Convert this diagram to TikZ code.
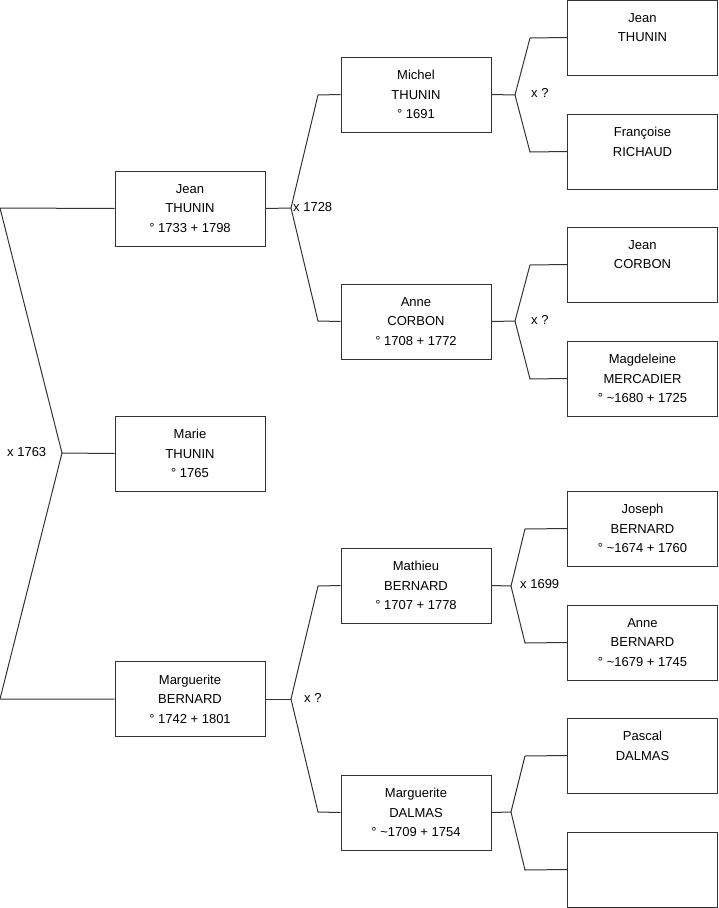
\documentclass[tikz,border=0pt]{standalone}
\usepackage{fontspec}
\setmainfont{Liberation Sans}
\begin{document}
\begin{tikzpicture}[x=1pt,y=-1pt,
  linec/.style={draw=black!80, line width=1pt},
  box/.style={linec, minimum width=150pt, minimum height=75pt, inner sep=0pt,
    align=center, font=\fontsize{13}{19.5}\selectfont, fill=white},
  wire/.style={linec},
  lab/.style={inner sep=0pt, font=\fontsize{13}{16}\selectfont}]
\useasboundingbox (0,0) rectangle (719,908);
% level 1
\node[box] (j1) at (190,208.5) {Jean\\THUNIN\\° 1733 + 1798};
\node[box] (ma) at (190,453.5) {Marie\\THUNIN\\° 1765};
\node[box] (mb) at (190,699) {Marguerite\\BERNARD\\° 1742 + 1801};
% level 2
\node[box] (mt) at (416,94.5) {Michel\\THUNIN\\° 1691};
\node[box] (ac) at (416,321.5) {Anne\\CORBON\\° 1708 + 1772};
\node[box] (mbe) at (416,585.5) {Mathieu\\BERNARD\\° 1707 + 1778};
\node[box] (md) at (416,812.5) {Marguerite\\DALMAS\\° \textasciitilde1709 + 1754};
% level 3
\node[box] (jt) at (642.5,37.5) {Jean\\THUNIN\\\mbox{}};
\node[box] (fr) at (642.5,151.5) {Françoise\\RICHAUD\\\mbox{}};
\node[box] (jc) at (642.5,264.5) {Jean\\CORBON\\\mbox{}};
\node[box] (mm) at (642.5,378.5) {Magdeleine\\MERCADIER\\° \textasciitilde1680 + 1725};
\node[box] (jb) at (642.5,528.5) {Joseph\\BERNARD\\° \textasciitilde1674 + 1760};
\node[box] (ab) at (642.5,642.5) {Anne\\BERNARD\\° \textasciitilde1679 + 1745};
\node[box] (pd) at (642.5,755.5) {Pascal\\DALMAS\\\mbox{}};
\node[box] (em) at (642.5,869.5) {};
% junction coordinates
\coordinate (r) at (62,453);
\coordinate (ra) at (0,208);
\coordinate (rb) at (0,699);
\coordinate (f1) at (291,208);
\coordinate (f1a) at (318,95);
\coordinate (f1b) at (318,321);
\coordinate (f2) at (291,699);
\coordinate (f2a) at (318,586);
\coordinate (f2b) at (318,812);
\coordinate (f3) at (515,95);
\coordinate (f3a) at (530,38);
\coordinate (f3b) at (530,152);
\coordinate (f4) at (515,321);
\coordinate (f4a) at (530,265);
\coordinate (f4b) at (530,379);
\coordinate (f5) at (511,586);
\coordinate (f5a) at (525,529);
\coordinate (f5b) at (525,643);
\coordinate (f6) at (511,812);
\coordinate (f6a) at (525,756);
\coordinate (f6b) at (525,870);
% connectors
\draw[wire] (j1.west) -- (ra) -- (r) -- (rb) -- (mb.west);
\draw[wire] (r) -- (ma.west);
\draw[wire] (j1.east) -- (f1);
\draw[wire] (mt.west) -- (f1a) -- (f1) -- (f1b) -- (ac.west);
\draw[wire] (mb.east) -- (f2);
\draw[wire] (mbe.west) -- (f2a) -- (f2) -- (f2b) -- (md.west);
\draw[wire] (mt.east) -- (f3);
\draw[wire] (jt.west) -- (f3a) -- (f3) -- (f3b) -- (fr.west);
\draw[wire] (ac.east) -- (f4);
\draw[wire] (jc.west) -- (f4a) -- (f4) -- (f4b) -- (mm.west);
\draw[wire] (mbe.east) -- (f5);
\draw[wire] (jb.west) -- (f5a) -- (f5) -- (f5b) -- (ab.west);
\draw[wire] (md.east) -- (f6);
\draw[wire] (pd.west) -- (f6a) -- (f6) -- (f6b) -- (em.west);
% labels
\node[lab, anchor=west] (l0) at (7,452) {x 1763};
\node[lab, anchor=west] (l1) at (293,207) {x 1728};
\node[lab, anchor=west] (l2) at (304,698) {x ?};
\node[lab, anchor=west] (l3) at (531,93) {x ?};
\node[lab, anchor=west] (l4) at (531,320) {x ?};
\node[lab, anchor=west] (l5) at (520,584) {x 1699};
\end{tikzpicture}
\end{document}
